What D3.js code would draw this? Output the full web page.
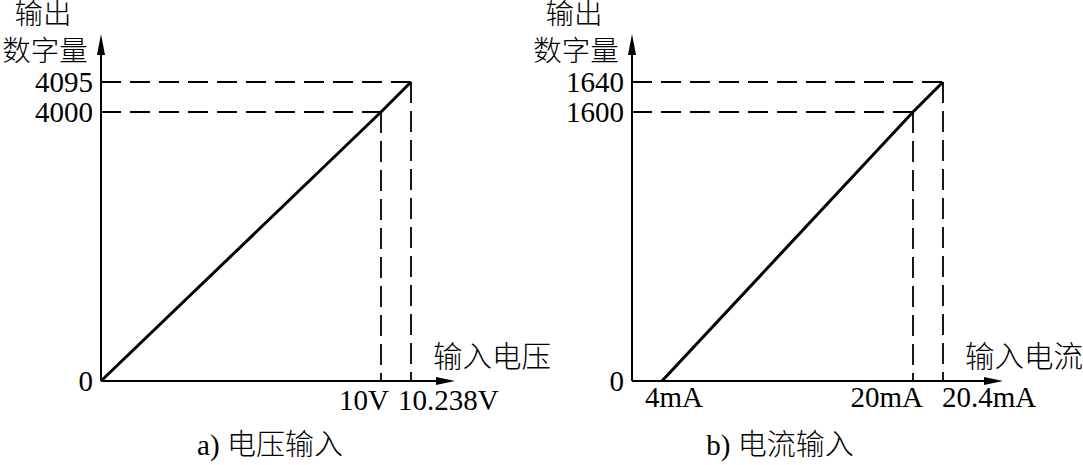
<!DOCTYPE html>
<html>
<head>
<meta charset="utf-8">
<script src="https://cdn.jsdelivr.net/npm/d3@7"></script>
<style>
  body { margin: 0; background: #fff; }
  text { fill: #000; }
  .num { font-family: "Liberation Serif", "Noto Sans CJK SC", serif; font-size: 29px; }
  .cjk { font-family: "Liberation Serif", "Noto Sans CJK SC", serif; font-size: 28.5px; font-weight: 300; }
</style>
</head>
<body>
<svg id="chart" width="1083" height="465"></svg>
<script>
// voltage input panel (a)
const voltX = [0, 10, 10.238];
const voltY = [0, 4000, 4095];
const voltXLabels = ["10V", "10.238V"];
const voltYLabels = ["0", "4000", "4095"];

// current input panel (b)
const currX = [4, 20, 20.4];
const currY = [0, 1600, 1640];
const currXLabels = ["4mA", "20mA", "20.4mA"];
const currYLabels = ["0", "1600", "1640"];

const svg = d3.select("#chart");
svg.append("rect").attr("width", 1083).attr("height", 465).attr("fill", "#fff");

function draw_panel(opts) {
    const g = svg.append("g");
    const x = opts.x, y = opts.y;
    const x0 = x(0), y0 = y(0);
    const yTop = 34, xEnd = opts.xEnd;

    // dashed guide lines
    const pts = opts.xs.map((d, i) => [d, opts.ys[i]]);
    pts.filter(p => p[1] > 0).forEach(p => {
        g.append("line")
            .attr("x1", x0).attr("x2", x(p[0]))
            .attr("y1", y(p[1])).attr("y2", y(p[1]))
            .attr("stroke", "#000").attr("stroke-width", 1.8)
            .attr("stroke-dasharray", "20,9");
        g.append("line")
            .attr("x1", x(p[0])).attr("x2", x(p[0]))
            .attr("y1", y(p[1])).attr("y2", y0)
            .attr("stroke", "#000").attr("stroke-width", 1.8)
            .attr("stroke-dasharray", "21,8");
    });

    // axes with arrows
    g.append("line").attr("x1", x0).attr("x2", x0).attr("y1", y0).attr("y2", yTop + 8)
        .attr("stroke", "#000").attr("stroke-width", 2);
    g.append("path").attr("d", `M${x0},${yTop} L${x0 - 4},${yTop + 21} L${x0 + 4},${yTop + 21} Z`);
    g.append("line").attr("x1", x0).attr("x2", xEnd - 8).attr("y1", y0).attr("y2", y0)
        .attr("stroke", "#000").attr("stroke-width", 2);
    g.append("path").attr("d", `M${xEnd},${y0} L${xEnd - 19},${y0 - 4} L${xEnd - 19},${y0 + 4} Z`);

    // characteristic line
    g.append("path")
        .datum(pts)
        .attr("fill", "none")
        .attr("stroke", "#000")
        .attr("stroke-width", 3)
        .attr("d", d3.line().x(d => x(d[0])).y(d => y(d[1])));

    // y tick labels
    const yAxis = g.append("g")
        .attr("transform", `translate(${x0},0)`)
        .call(d3.axisLeft(y).tickValues(opts.ys).tickSize(0).tickPadding(8)
            .tickFormat((d, i) => opts.yLabels[i]));
    yAxis.select(".domain").remove();
    yAxis.selectAll("text").attr("class", "num").attr("font-family", null).attr("font-size", null);

    // x tick labels
    const xVals = opts.xs.slice(opts.xs.length - opts.xLabels.length);
    xVals.forEach((v, i) => {
        const lay = opts.xLay[i];
        g.append("text").attr("class", "num")
            .attr("x", x(v) + lay[1]).attr("y", opts.xLabelY)
            .attr("text-anchor", lay[0])
            .text(opts.xLabels[i]);
    });

    // axis titles
    g.append("text").attr("class", "cjk").attr("text-anchor", "middle")
        .attr("x", x0 - 58).attr("y", 24).text("输出");
    g.append("text").attr("class", "cjk").attr("text-anchor", "middle")
        .attr("x", x0 - 56).attr("y", 61).text("数字量");
    g.append("text").attr("class", "cjk").style("font-size", "29.5px")
        .attr("x", x(opts.xs[opts.xs.length - 1]) + 22).attr("y", 367).text(opts.xTitle);

    // caption
    g.append("text").attr("class", "cjk").style("font-size", "29px").attr("text-anchor", "middle")
        .attr("x", opts.capX).attr("y", 455).text(opts.caption);
}

draw_panel({
    x: d3.scaleLinear().domain([0, 10, 10.238]).range([101, 381, 411]),
    y: d3.scaleLinear().domain([0, 4000, 4095]).range([381, 112, 82]),
    xs: voltX, ys: voltY, xLabels: voltXLabels, yLabels: voltYLabels,
    xLay: [["end", 8], ["start", -13]],
    xLabelY: 410, xEnd: 455,
    xTitle: "输入电压", caption: "a) 电压输入", capX: 270
});

draw_panel({
    x: d3.scaleLinear().domain([0, 4, 20, 20.4]).range([632, 662, 913, 943]),
    y: d3.scaleLinear().domain([0, 1600, 1640]).range([381, 112, 82]),
    xs: currX, ys: currY, xLabels: currXLabels, yLabels: currYLabels,
    xLay: [["middle", 12], ["end", 10], ["start", -1]],
    xLabelY: 407, xEnd: 1003,
    xTitle: "输入电流", caption: "b) 电流输入", capX: 780
});
</script>
</body>
</html>
